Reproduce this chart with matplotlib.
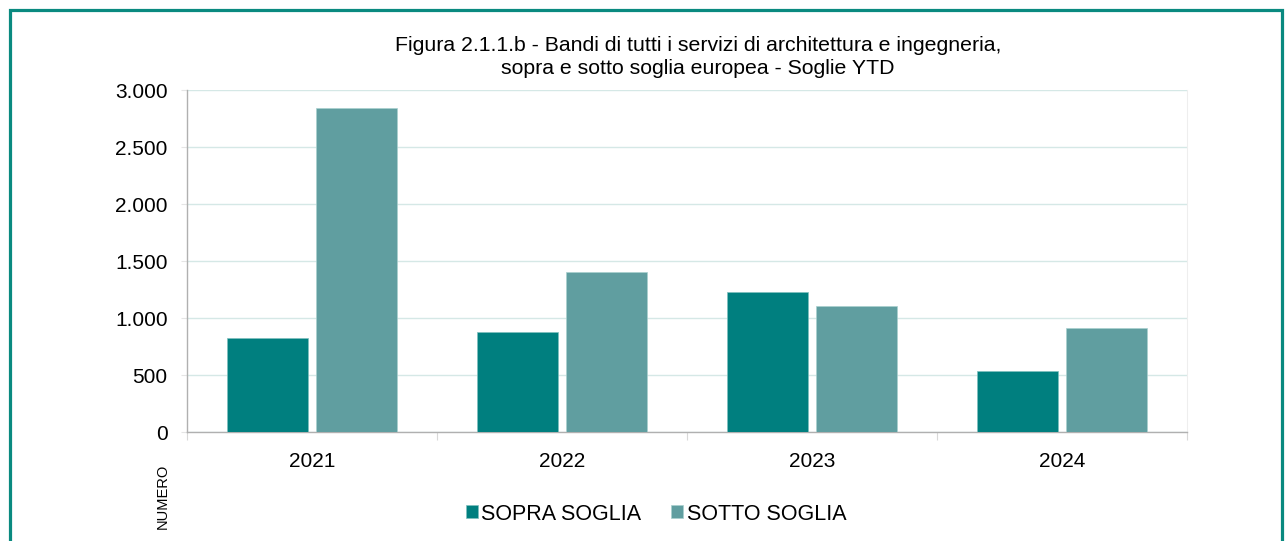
import matplotlib
matplotlib.use("Agg")
import matplotlib.pyplot as plt
from matplotlib.patches import Rectangle
from matplotlib.ticker import FuncFormatter
import numpy as np

years = ["2021", "2022", "2023", "2024"]
sopra = [826, 879, 1230, 537]
sotto = [2840, 1402, 1107, 911]
series_names = ["SOPRA SOGLIA", "SOTTO SOGLIA"]
title = "Figura 2.1.1.b - Bandi di tutti i servizi di architettura e ingegneria,\nsopra e sotto soglia europea - Soglie YTD"

plt.rcParams['font.family'] = ['Liberation Sans', 'DejaVu Sans']

W, H = 1285, 541
fig = plt.figure(figsize=(W / 100, H / 100), dpi=100)
ax = fig.add_axes([187 / W, (H - 432.3) / H, 1000 / W, 342.3 / H])

c_sopra = "#007F7F"
c_sotto = "#609EA0"
x = np.arange(len(years))
bw = 0.322
off = 0.178
ax.bar(x - off, sopra, bw, color=c_sopra, edgecolor="#7FC0BE", linewidth=0.5, label=series_names[0], zorder=3)
ax.bar(x + off, sotto, bw, color=c_sotto, edgecolor="#A9D0CE", linewidth=0.5, label=series_names[1], zorder=3)

ax.set_xlim(-0.5, len(years) - 0.5)
ax.set_ylim(0, 3000)
ax.set_yticks(np.arange(0, 3001, 500))
ax.yaxis.set_major_formatter(FuncFormatter(lambda v, p: f"{int(v):,}".replace(",", ".")))
ax.grid(axis="y", color="#D5E8E6", linewidth=1.0, zorder=0)
ax.set_axisbelow(True)

ax.set_xticks(x)
ax.set_xticklabels(years)
ax.set_xticks(np.arange(-0.5, len(years), 1.0), minor=True)
ax.tick_params(axis="x", which="major", length=0, pad=14, labelsize=15)
ax.tick_params(axis="x", which="minor", length=6, color="#D9D9D9", width=0.8)
ax.tick_params(axis="y", length=4, color="#E5E5E5", labelsize=15, pad=10)

for s in ["left", "bottom"]:
    ax.spines[s].set_color("#B0B0B0")
    ax.spines[s].set_linewidth(1.0)
ax.spines["top"].set_visible(False)
ax.spines["right"].set_color("#EEEEEE")
ax.spines["right"].set_linewidth(0.8)

fig.text(698 / W, 1 - 57 / H, title, ha="center", va="center", fontsize=15.3, linespacing=1.3)

fig.text(163 / W, 1 - 496 / H, "NUMERO", rotation=90, ha="center", va="center", fontsize=10.5)

fig.legend(loc="center", bbox_to_anchor=(656 / W, 1 - 514 / H), ncol=2, frameon=False,
           fontsize=15.5, handlelength=0.56, handleheight=0.56, handletextpad=0.15, columnspacing=1.4)

fig.patches.append(Rectangle((9.5 / W, -0.05), (1282 - 9.5) / W, 1.05 - 9.5 / H, transform=fig.transFigure,
                             fill=False, edgecolor="#0A8A80", linewidth=2.3))

fig.savefig("out.png", dpi=100)
